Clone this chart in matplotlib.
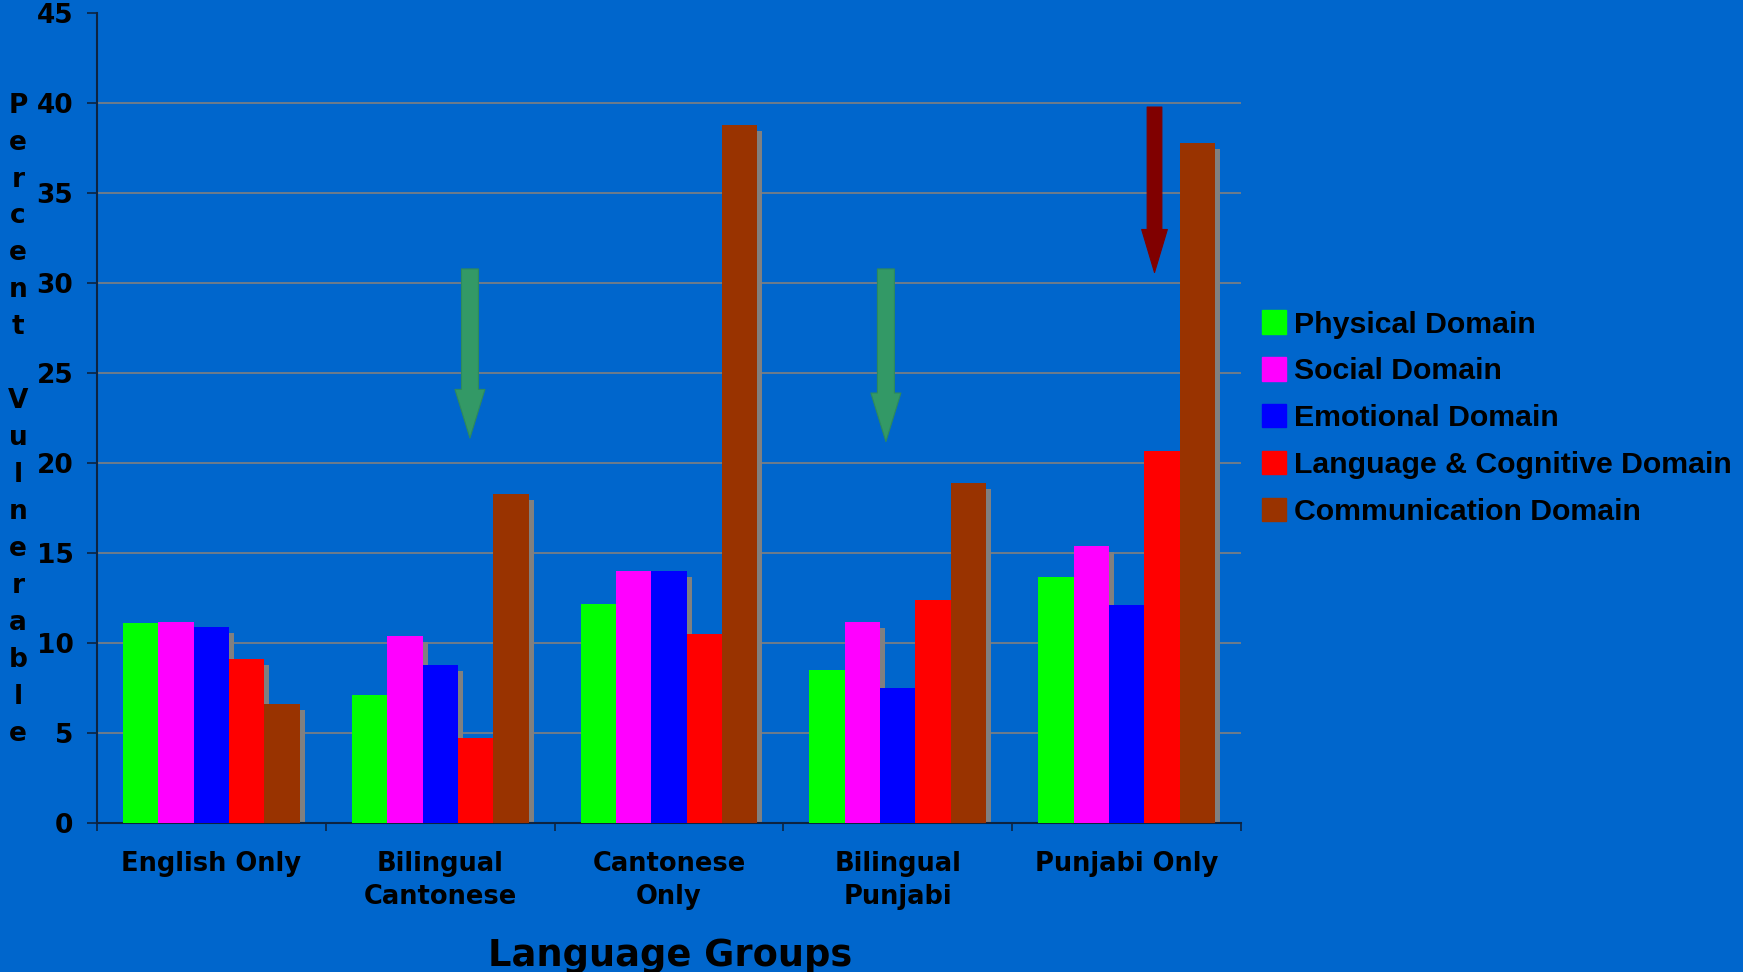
import matplotlib
matplotlib.use("Agg")
import matplotlib.pyplot as plt
import numpy as np
from matplotlib.transforms import ScaledTranslation
from matplotlib.patches import FancyArrowPatch, Patch

# data
groups = ["English Only", "Bilingual\nCantonese", "Cantonese\nOnly", "Bilingual\nPunjabi", "Punjabi Only"]
domains = ["Physical Domain", "Social Domain", "Emotional Domain",
           "Language & Cognitive Domain", "Communication Domain"]
physical = [11.1, 7.1, 12.2, 8.5, 13.7]
social = [11.2, 10.4, 14.0, 11.2, 15.4]
emotional = [10.9, 8.8, 14.0, 7.5, 12.1]
language = [9.1, 4.7, 10.5, 12.4, 20.7]
communication = [6.6, 18.3, 38.8, 18.9, 37.8]
colors = ["#00FF00", "#FF00FF", "#0000FF", "#FF0000", "#993300"]

# arrows: (x position, tail value, tip value, colour)
arrows = [(1.13, 30.8, 21.4, "#339966"),
          (2.948, 30.8, 21.2, "#339966"),
          (4.122, 39.8, 30.6, "#800000")]

bg = "#0066CC"
series = [physical, social, emotional, language, communication]

fig = plt.figure(figsize=(17.43, 9.72), dpi=100, facecolor=bg)
ax = fig.add_axes([97/1743, 1-823/972, (1241-97)/1743, (823-13.5)/972])
ax.set_facecolor(bg)

x = np.arange(len(groups))
w = 0.1546
shadow = ax.transData + ScaledTranslation(5/100, -6/100, fig.dpi_scale_trans)
for j, vals in enumerate(series):
    pos = x + (j - 2) * w
    ax.bar(pos, vals, w, color="#808080", zorder=2, transform=shadow)
for j, vals in enumerate(series):
    pos = x + (j - 2) * w
    ax.bar(pos, vals, w, color=colors[j], zorder=3, label=domains[j])

for ax_x, y0, y1, c in arrows:
    if c == "#800000":
        style = "simple,head_length=31,head_width=18.5,tail_width=10.6"
    else:
        style = "simple,head_length=35,head_width=21.6,tail_width=12.2"
    arr = FancyArrowPatch((ax_x, y0), (ax_x, y1), arrowstyle=style, mutation_scale=1,
                          shrinkA=0, shrinkB=0, fc=c, ec="#2e8a5c" if c != "#800000" else c,
                          lw=0.8, zorder=4)
    ax.add_patch(arr)

ax.set_xlim(-0.5, 4.5)
ax.set_ylim(0, 45)
ax.set_yticks(np.arange(0, 46, 5))
ax.yaxis.grid(True, color="#808080", lw=1.2, zorder=1)
ax.set_axisbelow(True)
for s in ["top", "right"]:
    ax.spines[s].set_visible(False)
for s in ["left", "bottom"]:
    ax.spines[s].set_color("#0d2340")
    ax.spines[s].set_linewidth(1.5)

ax.tick_params(axis="y", direction="out", length=7, width=1.2, color="#0d2340", pad=10,
               labelsize=19)
for lab in ax.get_yticklabels():
    lab.set_fontweight("bold")

ax.set_xticks(x)
ax.set_xticklabels(groups, fontsize=18.5, fontweight="bold", linespacing=1.35)
ax.set_xticks(np.arange(-0.5, 5, 1), minor=True)
ax.tick_params(axis="x", which="major", length=0, pad=20)
ax.tick_params(axis="x", which="minor", direction="out", length=6, width=1.2, color="#0d2340")

fig.text(670/1743, 1-955/972, "Language Groups", ha="center", va="center",
         fontsize=26.5, fontweight="bold")

# vertical stacked y label
ylab = "Percent Vulnerable"
for i, ch in enumerate(ylab):
    fig.text(18/1743, 1-(105.6 + i*36.96)/972, ch, ha="center", va="center",
             fontsize=19, fontweight="bold")

handles = [Patch(color=c) for c in colors]
fig.legend(handles, domains, loc="upper left", bbox_to_anchor=(1262/1743, 1-310.5/972),
           frameon=False, prop={"family": "Liberation Sans", "weight": "bold", "size": 21.8},
           handlelength=0.8, handleheight=0.8, handletextpad=0.25, labelspacing=0.62,
           borderpad=0, borderaxespad=0)

fig.savefig("out.png", dpi=100, facecolor=bg)
